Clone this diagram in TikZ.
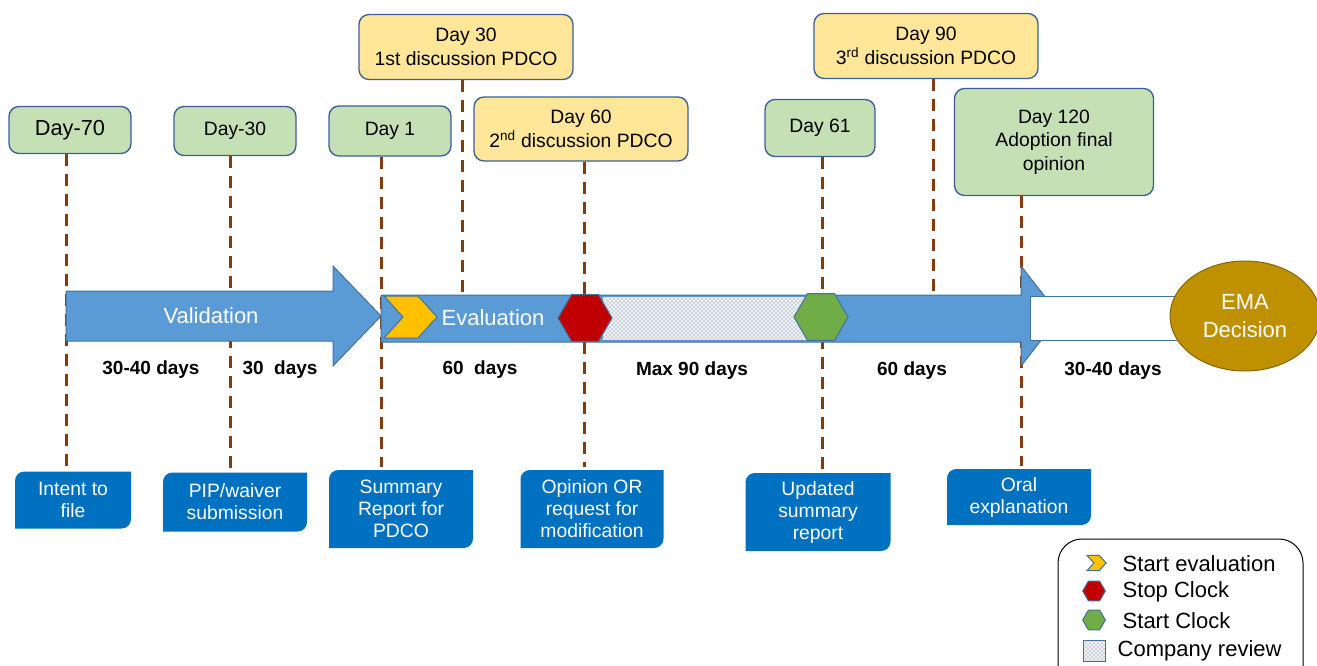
\documentclass[tikz,border=0pt]{standalone}
\usepackage{fontspec}
\setmainfont{Liberation Sans}
\usetikzlibrary{shapes.geometric,patterns}

\definecolor{daygreen}{HTML}{C5E0B4}
\definecolor{pdcoyellow}{HTML}{FFE699}
\definecolor{boxline}{HTML}{3B5E9B}
\definecolor{docblue}{HTML}{0070C0}
\definecolor{barblue}{HTML}{5B9BD5}
\definecolor{barline}{HTML}{41719C}
\definecolor{milebrown}{HTML}{843C0C}
\definecolor{startyellow}{HTML}{FFC000}
\definecolor{stopred}{HTML}{C00000}
\definecolor{startgreen}{HTML}{70AD47}
\definecolor{emagold}{HTML}{BF9000}
\definecolor{revfill}{HTML}{EEF1F5}
\definecolor{revdot}{HTML}{6A7888}

\tikzset{
    box/.style={draw=boxline, line width=1pt, rounded corners=7.5pt, align=center,
        inner sep=0pt, font=\fontsize{14.5}{18}\selectfont},
    daybox/.style={box, fill=daygreen},
    pdcobox/.style={box, fill=pdcoyellow},
    docbox/.style={align=center, inner sep=0pt, text=white,
        font=\fontsize{14.5}{16.5}\selectfont,
        path picture={
            \fill[docblue] (path picture bounding box.south west)
                -- ([yshift=-7pt]path picture bounding box.north west)
                arc[start angle=180, end angle=90, radius=7pt]
                -- (path picture bounding box.north east)
                -- ([yshift=7pt]path picture bounding box.south east)
                arc[start angle=0, end angle=-90, radius=7pt]
                -- cycle;
        }},
    milestone/.style={draw=milebrown, line width=2.25pt, dash pattern=on 9pt off 6pt},
    bar/.style={fill=barblue, draw=barline, line width=0.75pt},
    bartext/.style={text=white, font=\fontsize{16.5}{21}\selectfont},
    dur/.style={font=\fontsize{14.25}{17}\selectfont\bfseries},
    clock/.style={regular polygon, regular polygon sides=6, draw=barline,
        line width=0.75pt, inner sep=0pt, minimum size=40.5pt},
    stopclk/.style={clock, fill=stopred},
    startclk/.style={clock, fill=startgreen},
    lgtext/.style={anchor=west, font=\fontsize{16.5}{19}\selectfont},
    chevron/.pic={
        \filldraw[fill=startyellow, draw=barline, line width=0.75pt]
            (0,-21) -- (34,-21) -- (53,0) -- (34,21) -- (0,21) -- (19,0) -- cycle;
    }
}

\begin{document}
\begin{tikzpicture}[x=0.75pt,y=-0.75pt]
    \useasboundingbox (0,0) rectangle (1317,665);

    % time axis
    \coordinate (t70) at (66,316);
    \coordinate (t30n) at (230,316);
    \coordinate (t1) at (381,316);
    \coordinate (t30) at (462,316);
    \coordinate (t60) at (584,316);
    \coordinate (t61) at (822,316);
    \coordinate (t90) at (933,316);
    \coordinate (t120) at (1021,316);

    % milestones
    \node[daybox, minimum width=91.5pt, minimum height=35.25pt, font=\fontsize{16.3}{19}\selectfont] (d70) at (70,130) {Day-70};
    \node[daybox, minimum width=91.5pt, minimum height=36.75pt] (d30n) at (235,131) {Day-30};
    \node[daybox, minimum width=91.5pt, minimum height=37.5pt] (d1) at (390,131) {Day 1};
    \node[pdcobox, minimum width=160.5pt, minimum height=48.75pt] (d30) at (466,47) {Day 30\\1st discussion PDCO};
    \node[pdcobox, minimum width=160.5pt, minimum height=48pt] (d60) at (581,129) {Day 60\\2\textsuperscript{nd} discussion PDCO};
    \node[daybox, minimum width=82.5pt, minimum height=42.75pt] (d61) at (820,128) {Day 61};
    \node[pdcobox, minimum width=168pt, minimum height=48.75pt] (d90) at (926,46) {Day 90\\3\textsuperscript{rd} discussion PDCO};
    \node[daybox, minimum width=149.25pt, minimum height=80.25pt, font=\fontsize{14.5}{17.5}\selectfont] (d120) at (1054,142) {Day 120\\Adoption final\\opinion};

    % documents
    \node[docbox, minimum width=87pt, minimum height=42.75pt] (intent) at (73,500) {Intent to\\file};
    \node[docbox, minimum width=108pt, minimum height=44.25pt] (pip) at (235,502) {PIP/waiver\\submission};
    \node[docbox, minimum width=108pt, minimum height=58.5pt] (summ) at (401,509) {Summary\\Report for\\PDCO};
    \node[docbox, minimum width=107.25pt, minimum height=58.5pt] (opin) at (592,509) {Opinion OR\\request for\\modification};
    \node[docbox, minimum width=108.75pt, minimum height=58.5pt] (upd) at (818,512) {Updated\\summary\\report};
    \node[docbox, minimum width=108pt, minimum height=42pt] (oral) at (1019,497) {Oral\\explanation};

    \draw[milestone] (d70.south -| t70) -- ([yshift=2pt]intent.north -| t70);
    \draw[milestone] (d30n.south -| t30n) -- ([yshift=2pt]pip.north -| t30n);
    \draw[milestone] (d1.south -| t1) -- ([yshift=2pt]summ.north -| t1);
    \draw[milestone] (d30.south -| t30) -- (t30);
    \draw[milestone] (d60.south -| t60) -- ([yshift=2pt]opin.north -| t60);
    \draw[milestone] (d61.south -| t61) -- ([yshift=2pt]upd.north -| t61);
    \draw[milestone] (d90.south -| t90) -- (t90);
    \draw[milestone] (d120.south -| t120) -- ([yshift=2pt]oral.north -| t120);

    % validation and evaluation
    \filldraw[bar] (66,291) -- (333,291) -- (333,266) -- (381,316) -- (333,366) -- (333,341) -- (66,341) -- cycle;
    \node[bartext] (valtxt) at (211,316) {Validation};
    \filldraw[bar] (381,295) -- (1021,295) -- (1021,266) -- (1060,316) -- (1021,366) -- (1021,342) -- (381,342) -- cycle;
    \fill[revfill] (603,297) rectangle (812,340);
    \fill[pattern=crosshatch dots, pattern color=revdot] (603,297) rectangle (812,340);
    \pic at (384,317) {chevron};
    \node[bartext] (evtxt) at (493,318) {Evaluation};
    \node[stopclk] (stop) at (585,318) {};
    \node[startclk] (start) at (821,317) {};
    \filldraw[fill=white, draw=barline, line width=0.75pt] (1030,296) rectangle (1183,340);
    \node[ellipse, fill=emagold, draw=emagold!70!black, line width=0.75pt, minimum width=112.5pt,
        minimum height=82.5pt, align=center, bartext] (ema) at (1245,316) {EMA\\Decision};

    \node[dur] at (151,370) {30-40 days};
    \node[dur] at (280,370) {30\ \ days};
    \node[dur] at (480,370) {60\ \ days};
    \node[dur] at (692,371) {Max 90 days};
    \node[dur] at (912,371) {60 days};
    \node[dur] at (1113,371) {30-40 days};

    % legend
    \draw[line width=0.75pt, rounded corners=18pt] (1058,539) rectangle (1303,700);
    \pic[scale=0.36] at (1087,563) {chevron};
    \node[stopclk, minimum size=17pt] (lgstop) at (1094,591) {};
    \node[startclk, minimum size=17pt] (lgstart) at (1094,620) {};
    \fill[revfill] (1083,640) rectangle (1105,661);
    \filldraw[pattern=crosshatch dots, pattern color=revdot, draw=barline, line width=0.75pt] (1083,640) rectangle (1105,661);
    \node[lgtext] at (1118,564) {Start evaluation};
    \node[lgtext] at (1118,592) {Stop Clock};
    \node[lgtext] at (1118,621) {Start Clock};
    \node[lgtext] at (1113,651) {Company review};
\end{tikzpicture}
\end{document}
